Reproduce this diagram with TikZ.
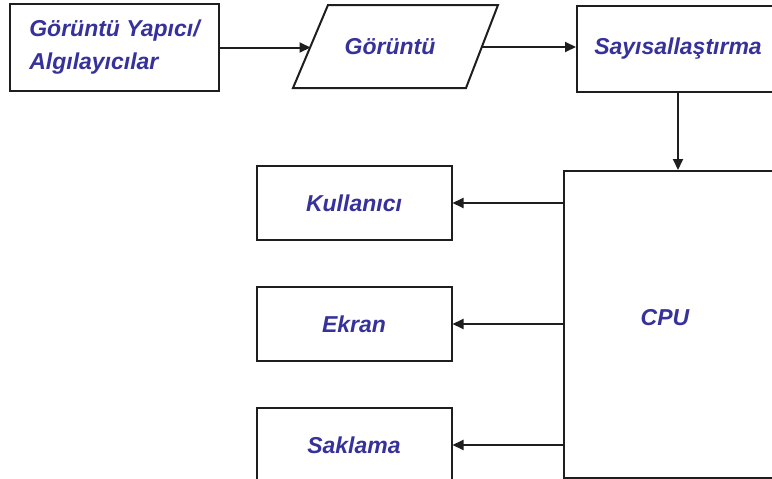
\documentclass[tikz,border=0pt]{standalone}
\usepackage{fontspec}
\setmainfont{Liberation Sans}
\usepackage{tikz}
\usetikzlibrary{shapes,arrows.meta,positioning,calc}
\definecolor{labelblue}{RGB}{55,50,155}
\definecolor{edgegray}{RGB}{30,30,30}

\begin{document}
\begin{tikzpicture}[x=1pt,y=-1pt,node distance=45pt,
    lbl/.style={font=\fontsize{23}{33}\selectfont\bfseries\itshape,text=labelblue},
    box/.style={lbl,draw=edgegray,line width=2pt,fill=white},
    flow/.style={draw=edgegray,line width=2pt,-{Triangle[length=11pt,width=10pt]}}]
    \useasboundingbox (0,0) rectangle (772,479);
    \clip (0,0) rectangle (772,479);

    % Acquisition row
    \node[box,minimum width=209pt,minimum height=87pt,align=left] (sensor) at (114.5,47.5) {Görüntü Yapıcı/\\Algılayıcılar};
    \draw[edgegray,line width=2pt] (293,88) -- (328,5) -- (498,5) -- (466,88) -- cycle;
    \node[lbl] (img) at (390,47) {Görüntü};
    \coordinate (imgL) at (310.5,47);
    \coordinate (imgR) at (482,47);
    \node[box,minimum width=202pt,minimum height=86pt] (digit) at (678,49) {Sayısallaştırma};

    \draw[flow] (sensor.east) -- (sensor.east -| imgL);
    \draw[flow] (imgR) -- (imgR -| digit.west);

    % Processing and outputs
    \node[box,minimum width=240pt,minimum height=307pt,
        label={[lbl,xshift=-19pt,yshift=7pt]center:CPU}] (cpu) at (684,324.5) {};
    \node[box,minimum width=195pt,minimum height=74pt] (user) at (354,203) {Kullanıcı};
    \node[box,minimum width=195pt,minimum height=74pt,below=of user] (screen) {Ekran};
    \node[box,minimum width=195pt,minimum height=74pt,below=of screen] (store) {Saklama};

    \draw[flow] (digit.south) -- (digit.south |- cpu.north);
    \foreach \n in {user,screen,store}
        \draw[flow] (cpu.west |- \n.east) -- (\n.east);
\end{tikzpicture}
\end{document}
